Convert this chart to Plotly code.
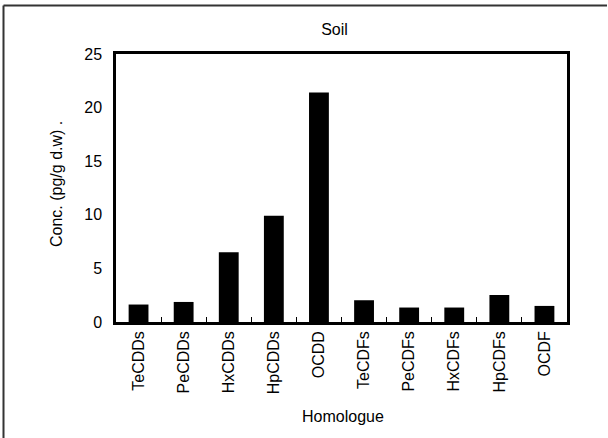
import plotly.graph_objects as go

categories = ["TeCDDs", "PeCDDs", "HxCDDs", "HpCDDs", "OCDD",
              "TeCDFs", "PeCDFs", "HxCDFs", "HpCDFs", "OCDF"]
values = [1.63, 1.87, 6.5, 9.9, 21.4, 2.03, 1.35, 1.35, 2.52, 1.5]
y_ticks = [0, 5, 10, 15, 20, 25]

FONT = "Liberation Sans, Arial, sans-serif"

fig = go.Figure(go.Bar(x=categories, y=values, marker=dict(color="black", line=dict(width=0))))

L, R, T, B = 116, 41, 54, 116
W, H = 608, 438
pw, ph = W - L - R, H - T - B

fig.update_layout(
    width=W, height=H,
    margin=dict(l=L, r=R, t=T, b=B, pad=0),
    paper_bgcolor="white", plot_bgcolor="white",
    bargap=0.56,
    showlegend=False,
    font=dict(family=FONT, size=16, color="black"),
    title=dict(text="Soil", x=334.5 / W, xanchor="center", y=1 - 29 / H, yanchor="middle",
               font=dict(family=FONT, size=16, color="black")),
    xaxis=dict(
        type="category", showline=True, linecolor="black", linewidth=2.5, mirror=True,
        ticks="inside", tickson="boundaries", ticklen=5, tickcolor="black",
        tickangle=-90, tickfont=dict(family=FONT, size=16), showgrid=False,
        range=[-0.5, 9.5],
    ),
    yaxis=dict(
        range=[0, 25], tickvals=y_ticks, showline=True, linecolor="black", linewidth=2.5,
        mirror=True, ticks="", showgrid=False, zeroline=False,
        tickfont=dict(family=FONT, size=16), ticklabelstandoff=8,
    ),
    annotations=[
        dict(text="Conc. (pg/g d.w) .", textangle=-90, xref="paper", yref="paper",
             x=(56 - L) / pw, y=(T + ph - 184) / ph, xanchor="center", yanchor="middle",
             showarrow=False, font=dict(family=FONT, size=16)),
        dict(text="Homologue", xref="paper", yref="paper",
             x=(342.5 - L) / pw, y=-(416.5 - (T + ph)) / ph, xanchor="center", yanchor="middle",
             showarrow=False, font=dict(family=FONT, size=16)),
    ],
    shapes=[
        dict(type="line", xref="paper", yref="paper",
             x0=(3.5 - L) / pw, x1=(607 - L) / pw, y0=(T + ph - 5.5) / ph, y1=(T + ph - 5.5) / ph,
             line=dict(color="#333333", width=2)),
        dict(type="line", xref="paper", yref="paper",
             x0=(3.5 - L) / pw, x1=(3.5 - L) / pw, y0=(T + ph - 5.5) / ph, y1=(T + ph - 438) / ph,
             line=dict(color="#333333", width=2)),
    ],
)

fig.write_html("out.html")
